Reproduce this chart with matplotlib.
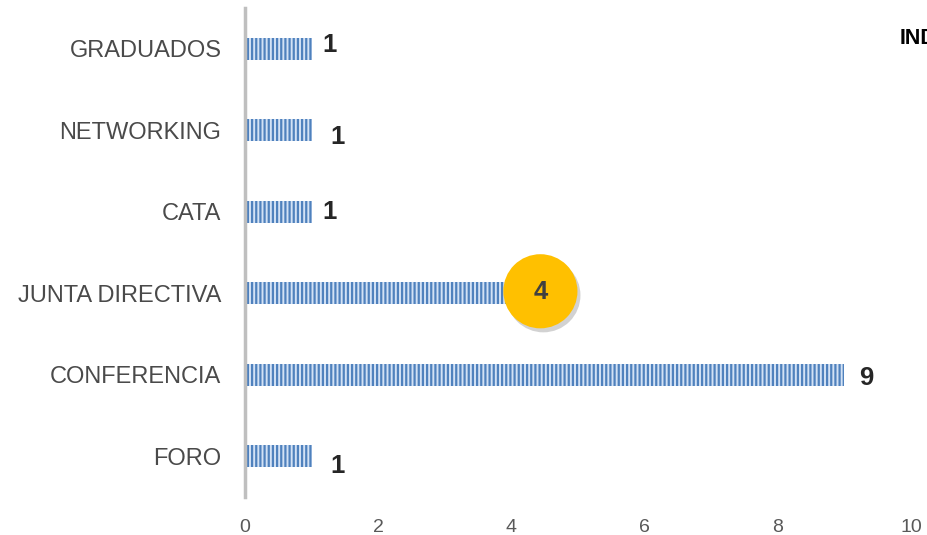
import matplotlib.pyplot as plt
from matplotlib.transforms import offset_copy

plt.rcParams['font.family'] = ['Liberation Sans', 'DejaVu Sans']
plt.rcParams['hatch.linewidth'] = 1.6

categories = ['FORO', 'CONFERENCIA', 'JUNTA DIRECTIVA', 'CATA', 'NETWORKING', 'GRADUADOS']
values = [1, 9, 4, 1, 1, 1]
xticks = [0, 2, 4, 6, 8, 10]

# label nudges in points (dx, dy), roughly as in the picture
label_offsets = [(19, -7), (16, -2), (0, 0), (13, 0), (19, -5), (13, 3)]

fig = plt.figure(figsize=(9.27, 5.35), dpi=100)
ax = fig.add_axes([0.2643, 0.071, 0.7184, 0.914])

pos = list(range(len(categories)))
ax.barh(pos, values, height=0.27, color='#d3e2f5', edgecolor='#4f81bd',
        hatch='||||', linewidth=0)

ax.set_xlim(0, 10)
ax.set_ylim(-0.5, 5.5)
ax.set_xticks(xticks)
ax.set_xticklabels([str(t) for t in xticks])
ax.set_yticks(pos)
ax.set_yticklabels(categories)
ax.tick_params(axis='x', length=0, pad=16, labelsize=14, labelcolor='#595959')
ax.tick_params(axis='y', length=0, pad=17, labelsize=17, labelcolor='#4a4a4a')

for s in ['top', 'right', 'bottom']:
    ax.spines[s].set_visible(False)
ax.spines['left'].set_color('#bfbfbf')
ax.spines['left'].set_linewidth(2.5)

for i, v in enumerate(values):
    if v == 4:
        # circled callout with a soft shadow
        shadow = offset_copy(ax.transData, fig=fig, x=32, y=-2, units='dots')
        disc = offset_copy(ax.transData, fig=fig, x=29, y=2, units='dots')
        ax.scatter([v], [i], s=2850, color='#7f7f7f', alpha=0.35, edgecolors='none',
                   transform=shadow, zorder=3, clip_on=False)
        ax.scatter([v], [i], s=2850, color='#ffc000', edgecolors='none',
                   transform=disc, zorder=4, clip_on=False)
        ax.annotate(str(v), xy=(v, i), xytext=(21, 1), textcoords='offset points',
                    ha='center', va='center', fontsize=18.5, fontweight='bold',
                    color='#404040', zorder=5)
    else:
        dx, dy = label_offsets[i]
        ax.annotate(str(v), xy=(v, i), xytext=(dx, dy), textcoords='offset points',
                    ha='center', va='center', fontsize=18.5, fontweight='bold',
                    color='#262626')

fig.text(900 / 927, 1 - 38 / 535, 'INDICADORES', fontsize=15.5, fontweight='bold',
         color='black', ha='left', va='center')

fig.savefig('out.png', dpi=100, facecolor='white')
